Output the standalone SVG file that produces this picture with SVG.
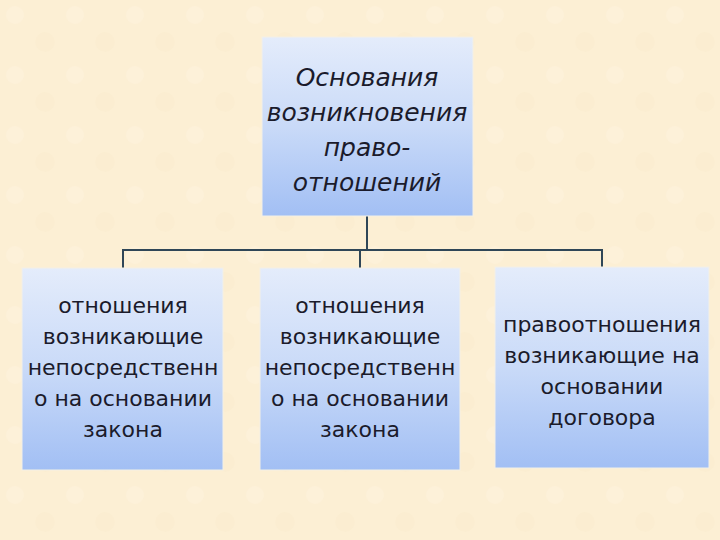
<svg xmlns="http://www.w3.org/2000/svg" width="720" height="540" viewBox="0 0 720 540">
<defs>
<linearGradient id="g" x1="0" y1="0" x2="0" y2="1">
<stop offset="0" stop-color="#e4ecfb"/>
<stop offset="0.5" stop-color="#c9daf8"/>
<stop offset="1" stop-color="#a2bff4"/>
</linearGradient>
<pattern id="bgp" width="60" height="60" patternUnits="userSpaceOnUse">
<rect width="60" height="60" fill="#fcefd4"/>
<circle cx="15" cy="15" r="9" fill="#fdf2dc" opacity="0.6"/>
<circle cx="45" cy="42" r="10" fill="#faebcd" opacity="0.5"/>
</pattern>
<style>
.box{fill:url(#g);stroke:#f3f0e6;stroke-width:1}
.t{font-family:"DejaVu Sans","Open Sans",sans-serif;font-size:22px;fill:#1b1b2b;text-anchor:middle}
.ti{font-style:italic;font-size:25px}
.c{fill:none;stroke:#2f4657;stroke-width:2}
</style>
</defs>
<rect width="720" height="540" fill="url(#bgp)"/>
<g id="connectors">
<path class="c" d="M367 216 V250 M123 250 H602 M123 249 V268 M360 249 V268 M602 249 V267"/>
</g>
<g id="root">
<rect class="box" x="262" y="37" width="211" height="179"/>
<text class="t ti" x="367" y="86">Основания</text>
<text class="t ti" x="367" y="121">возникновения</text>
<text class="t ti" x="367" y="156">право-</text>
<text class="t ti" x="367" y="191">отношений</text>
</g>
<g id="n1">
<rect class="box" x="22" y="268" width="201" height="202"/>
<text class="t" x="123" y="313">отношения</text>
<text class="t" x="123" y="344">возникающие</text>
<text class="t" x="123" y="375">непосредственн</text>
<text class="t" x="123" y="406">о на основании</text>
<text class="t" x="123" y="437">закона</text>
</g>
<g id="n2">
<rect class="box" x="260" y="268" width="200" height="202"/>
<text class="t" x="360" y="313">отношения</text>
<text class="t" x="360" y="344">возникающие</text>
<text class="t" x="360" y="375">непосредственн</text>
<text class="t" x="360" y="406">о на основании</text>
<text class="t" x="360" y="437">закона</text>
</g>
<g id="n3">
<rect class="box" x="495" y="267" width="214" height="201"/>
<text class="t" x="602" y="332">правоотношения</text>
<text class="t" x="602" y="363">возникающие на</text>
<text class="t" x="602" y="394">основании</text>
<text class="t" x="602" y="425">договора</text>
</g>
</svg>
